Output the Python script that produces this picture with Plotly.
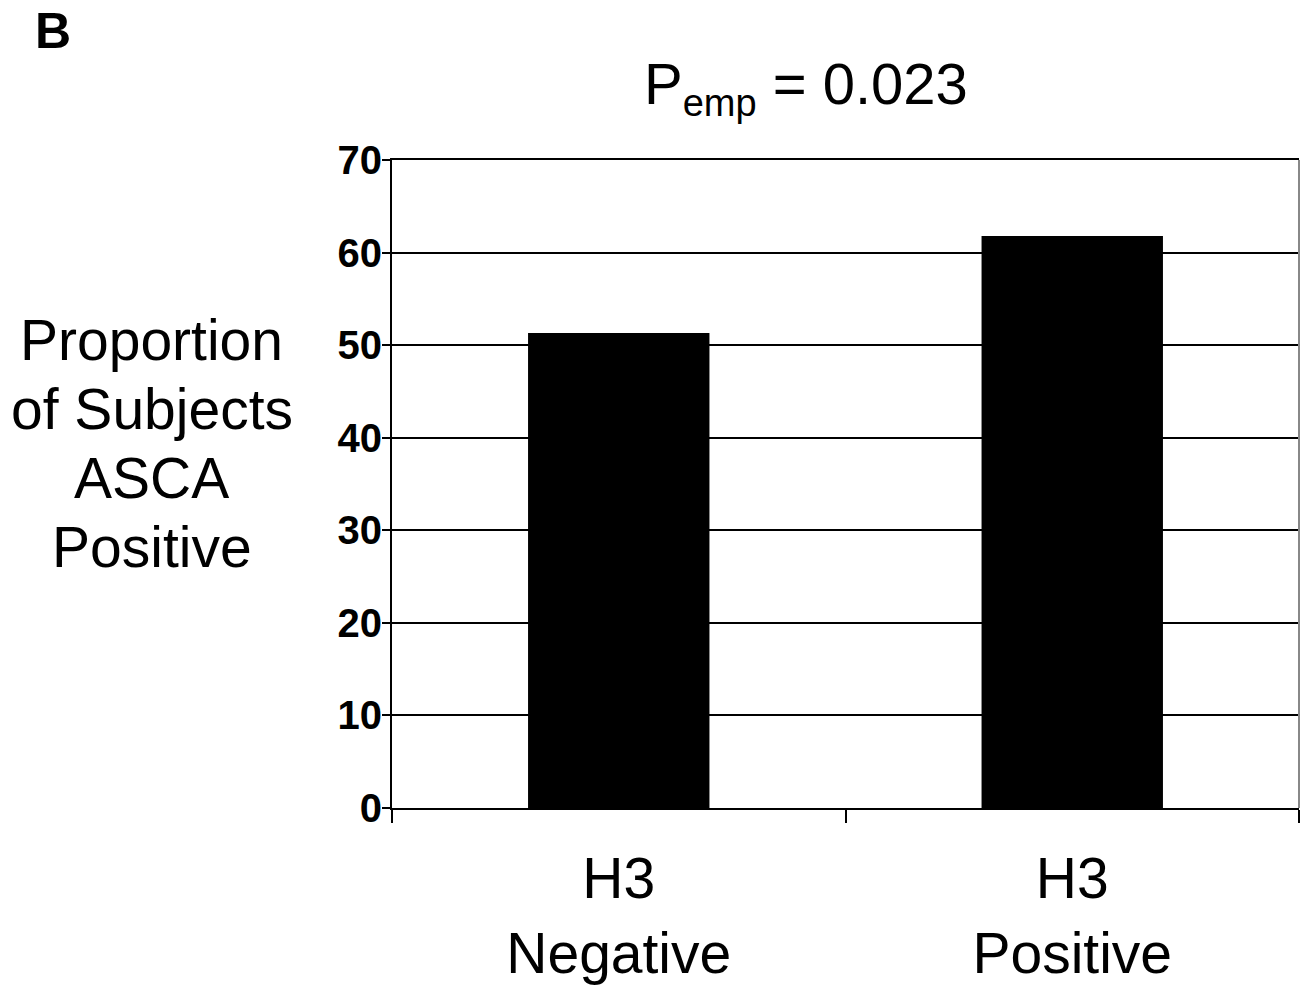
import plotly.graph_objects as go

categories = ["H3<br>Negative", "H3<br>Positive"]
values = [51.3, 61.8]
y_ticks = [0, 10, 20, 30, 40, 50, 60, 70]
y_title_lines = ["Proportion", "of Subjects", "ASCA", "Positive"]
title_text = "P<sub><span style='font-size:38px'>emp</span></sub> = 0.023"
panel_label = "B"

FONT = "Arial, Liberation Sans, sans-serif"

fig = go.Figure()
fig.add_trace(go.Bar(x=categories, y=values, marker=dict(color="black", line=dict(width=0)),
                     width=0.4))

W, H = 1308, 985
PL, PR, PT, PB = 392, 1299, 160, 808  # plot area in page pixels
L, R, T, B = PL, W - PR, PT, H - PB
pw = PR - PL
ph = PB - PT

def px_x(x):
    return (x - PL) / pw

def px_y(y):
    return (PB - y) / ph

fig.update_layout(
    width=W, height=H,
    margin=dict(l=L, r=R, t=T, b=B, pad=0, autoexpand=False),
    plot_bgcolor="white", paper_bgcolor="white",
    showlegend=False,
    font=dict(family=FONT, color="black"),
    bargap=0.6,
)
fig.update_xaxes(
    type="category",
    automargin=False,
    tickson="boundaries",
    ticks="outside", ticklen=13, tickwidth=2, tickcolor="black",
    showline=True, linecolor="black", linewidth=2, mirror=True,
    showgrid=False,
    tickfont=dict(size=57, family=FONT, color="black"),
    ticklabelstandoff=20,
)
fig.update_yaxes(
    range=[0, 70],
    automargin=False,
    tickvals=y_ticks,
    ticktext=[f"<b>{v}</b>" for v in y_ticks],
    ticks="outside", ticklen=8, tickwidth=2, tickcolor="black",
    showline=True, linecolor="black", linewidth=2,
    showgrid=True, gridcolor="black", gridwidth=2,
    zeroline=False,
    tickfont=dict(size=40, family=FONT, color="black"),
    ticklabelstandoff=-8,
)
# right border of plot area
fig.add_shape(type="line", xref="paper", yref="paper", x0=1, x1=1, y0=0, y1=1,
              line=dict(color="#888888", width=2))

line_y = [340, 409, 478, 547]
for txt, yy in zip(y_title_lines, line_y):
    fig.add_annotation(text=txt, xref="paper", yref="paper",
                       x=px_x(152), y=px_y(yy), xanchor="center", yanchor="middle",
                       showarrow=False, font=dict(size=57, family=FONT, color="black"))
fig.add_annotation(text=title_text, xref="paper", yref="paper",
                   x=px_x(806), y=px_y(88), xanchor="center", yanchor="middle",
                   showarrow=False, font=dict(size=58, family=FONT, color="black"))
fig.add_annotation(text=f"<b>{panel_label}</b>", xref="paper", yref="paper",
                   x=px_x(53), y=px_y(31), xanchor="center", yanchor="middle",
                   showarrow=False, font=dict(size=50, family=FONT, color="black"))

fig.write_html(
    "out.html",
    config={"displayModeBar": False},
    post_script="document.body.style.margin='0';document.body.style.overflow='hidden';",
)
